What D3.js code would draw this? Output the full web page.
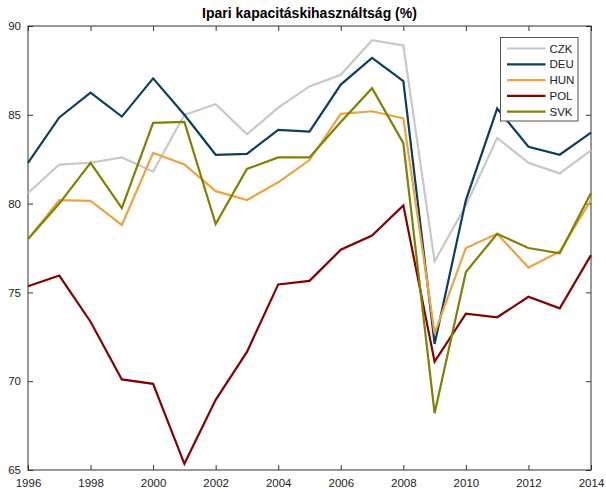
<!DOCTYPE html>
<html>
<head>
<meta charset="utf-8">
<script src="https://cdn.jsdelivr.net/npm/d3@7"></script>
<style>
  body { margin: 0; background: #fff; }
  svg { font-family: "Liberation Sans", Arial, sans-serif; }
</style>
</head>
<body>
<div class="svg-container"></div>
<script>
const years = d3.range(1996, 2015);
const seriesNames = ['CZK', 'DEU', 'HUN', 'POL', 'SVK'];
const czk = [80.6, 82.2, 82.3, 82.6, 81.8, 85.0, 85.6, 83.9, 85.4, 86.6, 87.25, 89.2, 88.9, 76.75, 79.9, 83.7, 82.3, 81.7, 83.0];
const deu = [82.3, 84.85, 86.25, 84.9, 87.05, 85.0, 82.75, 82.8, 84.15, 84.05, 86.7, 88.2, 86.9, 72.1, 80.2, 85.35, 83.2, 82.75, 84.0];
const hun = [78.0, 80.2, 80.15, 78.8, 82.85, 82.2, 80.7, 80.2, 81.2, 82.45, 85.05, 85.2, 84.8, 72.7, 77.5, 78.3, 76.4, 77.3, 80.2];
const pol = [75.35, 75.95, 73.35, 70.1, 69.85, 65.35, 68.95, 71.65, 75.45, 75.65, 77.4, 78.2, 79.9, 71.1, 73.8, 73.6, 74.75, 74.1, 77.1];
const svk = [78.0, 80.0, 82.3, 79.75, 84.55, 84.6, 78.85, 81.95, 82.6, 82.6, 84.6, 86.5, 83.4, 68.2, 76.15, 78.3, 77.5, 77.2, 80.6];
const xTicks = [1996, 1998, 2000, 2002, 2004, 2006, 2008, 2010, 2012, 2014];
const yTicks = [65, 70, 75, 80, 85, 90];
const colours = ['#c8c8c8', '#0b3f5c', '#eba443', '#850000', '#7d8200'];
const allSeries = [czk, deu, hun, pol, svk];

const width = 606;
const height = 489;
const margin = { top: 26, right: 15, bottom: 19, left: 28 };

const svg = d3.select('.svg-container')
  .append('svg')
  .attr('width', width)
  .attr('height', height);

const x = d3.scaleLinear().domain([1996, 2014]).range([margin.left, width - margin.right]);
const y = d3.scaleLinear().domain([65, 90]).range([height - margin.bottom, margin.top]);

const axisColour = '#555';

// plot box
svg.append('rect')
  .attr('x', x(1996)).attr('y', y(90))
  .attr('width', x(2014) - x(1996)).attr('height', y(65) - y(90))
  .attr('fill', 'none').attr('stroke', axisColour).attr('stroke-width', 1.2);

// ticks pointing inward, labels outside
const xAxis = svg.append('g')
  .attr('transform', `translate(0,${y(65)})`)
  .call(d3.axisBottom(x).tickValues(xTicks).tickFormat(d3.format('d')).tickSizeInner(-5).tickSizeOuter(0).tickPadding(9));
const xTop = svg.append('g')
  .attr('transform', `translate(0,${y(90)})`)
  .call(d3.axisTop(x).tickValues(xTicks).tickFormat('').tickSizeInner(-5).tickSizeOuter(0));
const yAxis = svg.append('g')
  .attr('transform', `translate(${x(1996)},0)`)
  .call(d3.axisLeft(y).tickValues(yTicks).tickSizeInner(-5).tickSizeOuter(0).tickPadding(7));
const yRight = svg.append('g')
  .attr('transform', `translate(${x(2014)},0)`)
  .call(d3.axisRight(y).tickValues(yTicks).tickFormat('').tickSizeInner(-5).tickSizeOuter(0));

[xAxis, xTop, yAxis, yRight].forEach((g) => {
  g.select('.domain').remove();
  g.selectAll('line').attr('stroke', '#333');
  g.selectAll('text').attr('fill', '#222').style('font-size', '11.5px');
});

// lines
const line = d3.line()
  .x((d, i) => x(years[i]))
  .y((d) => y(d));

svg.append('g')
  .selectAll('path')
  .data(allSeries)
  .enter()
  .append('path')
  .attr('d', line)
  .attr('fill', 'none')
  .attr('stroke', (d, i) => colours[i])
  .attr('stroke-width', 2.2)
  .attr('stroke-linejoin', 'miter');

// title
svg.append('text')
  .attr('x', (x(1996) + x(2014)) / 2)
  .attr('y', 18)
  .attr('text-anchor', 'middle')
  .style('font-size', '14px')
  .style('font-weight', 'bold')
  .text('Ipari kapacitáskihasználtság (%)');

// legend
const legend = svg.append('g').attr('transform', 'translate(500.5,37.5)');
legend.append('rect')
  .attr('width', 77.5).attr('height', 83.5)
  .attr('fill', '#fff').attr('stroke', axisColour).attr('stroke-width', 1);

const items = legend.selectAll('g.item')
  .data(seriesNames)
  .enter()
  .append('g')
  .attr('transform', (d, i) => `translate(0,${11 + i * 15.8})`);

items.append('line')
  .attr('x1', 6.5).attr('x2', 45)
  .attr('stroke', (d, i) => colours[i])
  .attr('stroke-width', 2.2);

items.append('text')
  .attr('x', 49)
  .attr('y', 4)
  .style('font-size', '11.5px')
  .attr('fill', '#222')
  .text((d) => d);
</script>
</body>
</html>
